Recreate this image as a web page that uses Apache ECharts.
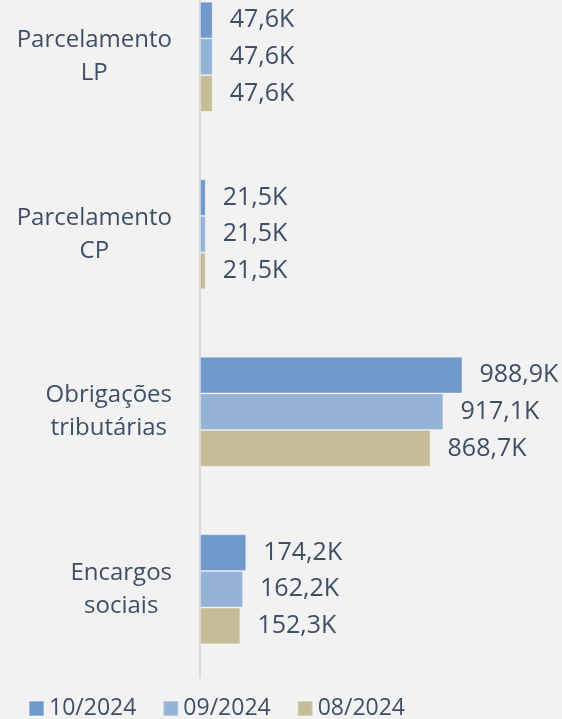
<!DOCTYPE html>
<html>
<head>
<meta charset="utf-8">
<script src="https://cdn.jsdelivr.net/npm/echarts@6/dist/echarts.min.js"></script>
<style>
  html, body { margin: 0; padding: 0; background: #f2f2f2; }
  #myChart { width: 562px; height: 719px; }
</style>
</head>
<body>
<div id="myChart"></div>
<script>
// categorias de cima para baixo
var categories = ['Parcelamento\nLP', 'Parcelamento\nCP', 'Obrigações\ntributárias', 'Encargos\nsociais']
var periods = ['10/2024', '09/2024', '08/2024']
// valores em milhares (K)
var values1024 = [47.6, 21.5, 988.9, 174.2]
var values0924 = [47.6, 21.5, 917.1, 162.2]
var values0824 = [47.6, 21.5, 868.7, 152.3]
var colors = ['#7099cc', '#95b3d7', '#c4bd97']

var textColor = '#3f4f66'
var font = 'Open Sans'

var fmtK = function (v) {
  return v.toFixed(1).replace('.', ',') + 'K'
}

var myChart = echarts.init(document.getElementById('myChart'))

var seriesData = [values1024, values0924, values0824]
var series = periods.map(function (name, i) {
  return {
    name: name,
    type: 'bar',
    data: seriesData[i],
    barGap: '0%',
    barCategoryGap: '38%',
    itemStyle: {
      color: colors[i],
      borderColor: 'rgba(255,255,255,0.3)',
      borderWidth: 1
    },
    label: {
      show: true,
      position: 'right',
      distance: 17,
      color: textColor,
      fontFamily: font,
      fontSize: 25,
      formatter: function (p) { return fmtK(p.value) }
    }
  }
})

var option = {
  backgroundColor: '#f2f2f2',
  color: colors,
  animation: false,
  grid: {
    left: 200,
    top: -32,
    width: 345,
    height: 710,
    outerBoundsMode: 'none'
  },
  legend: {
    data: periods,
    left: 28,
    top: 697,
    padding: 0,
    icon: 'rect',
    itemWidth: 15,
    itemHeight: 15,
    itemGap: 26,
    textStyle: {
      color: textColor,
      fontFamily: font,
      fontSize: 23
    }
  },
  xAxis: {
    type: 'value',
    min: 0,
    max: 1300,
    show: false
  },
  yAxis: {
    type: 'category',
    inverse: true,
    data: categories,
    offset: 1,
    axisLine: { show: true, lineStyle: { color: '#d9d9d9', width: 2 } },
    axisTick: { show: false },
    axisLabel: {
      margin: 27,
      formatter: function (value) {
        return value.split('\n').map(function (s) { return '{c|' + s + '}' }).join('\n')
      },
      rich: {
        c: {
          align: 'center',
          color: textColor,
          fontFamily: font,
          fontSize: 24,
          lineHeight: 33
        }
      }
    }
  },
  series: series
}

myChart.setOption(option)
</script>
</body>
</html>
